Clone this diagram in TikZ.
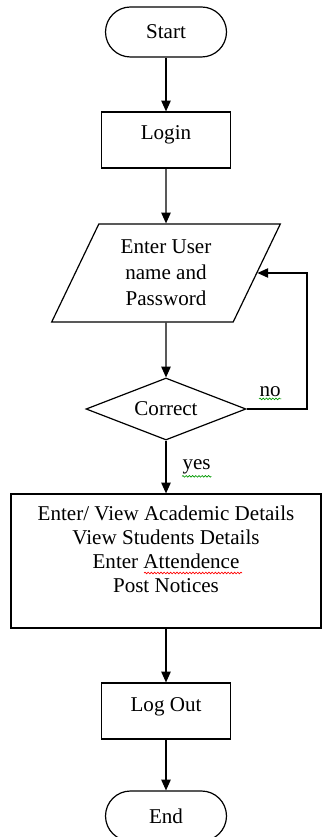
\documentclass[tikz,border=0pt]{standalone}
\usepackage{fontspec}
\setmainfont{Liberation Serif}
\usetikzlibrary{shapes,arrows.meta,positioning,decorations.pathmorphing}
\tikzstyle{term} = [draw, rectangle, rounded corners=18.75pt,
    minimum height=37.5pt, minimum width=90.75pt]
\tikzstyle{block} = [draw, rectangle, minimum height=42pt,
    minimum width=96.75pt, text height=10.5pt, text depth=10.5pt]
\tikzstyle{io} = [draw, trapezium, trapezium left angle=65,
    trapezium right angle=115, trapezium stretches=true,
    minimum height=73.5pt, minimum width=171.75pt, align=center,
    font=\fontsize{15.8}{19.5}\selectfont]
\tikzstyle{decision} = [draw, diamond, aspect=2.6,
    minimum height=46.5pt, minimum width=120pt]
\tikzstyle{task} = [draw, rectangle, minimum height=100.5pt,
    minimum width=232.5pt, align=center, text height=47pt, text depth=0pt]
\tikzstyle{answer} = [inner sep=0pt]
\tikzstyle{spellok} = [draw=green!60!black, line width=0.5pt, decorate,
    decoration={snake, amplitude=0.6pt, segment length=2.4pt}]
\tikzstyle{spellbad} = [spellok, draw=red]

\begin{document}
\begin{tikzpicture}[>={Triangle[length=8pt,width=7pt]}, line width=0.9pt,
    every node/.style={font=\fontsize{15.8}{17.9}\selectfont}]
    \useasboundingbox (0,0) rectangle (240.75pt,-627.75pt);
    % The main column, from top to bottom
    \node [term] (start) at (124.5pt,-24pt) {Start};
    \node [block, below of=start, node distance=81pt] (login) {Login};
    \node [io, below of=login, node distance=99.75pt] (cred) {Enter User\\name and\\Password};
    \node [decision, below of=cred, node distance=102pt] (check) {Correct};
    \node [task, below of=check, node distance=114pt] (work) {Enter/ View Academic Details\\View Students Details\\Enter Attendence\\Post Notices};
    \node [block, below of=work, node distance=112.5pt] (logout) {Log Out};
    \node [term, below of=logout, node distance=78.75pt] (end) {End};
    % corner of the way back when the check fails
    \coordinate [right of=check, node distance=105.75pt] (back);

    % Connect the blocks
    \draw [->] (start) -- (login);
    \draw [->] (login) -- (cred);
    \draw [->] (cred) -- (check);
    \draw [->] (check) -- node [answer, right=12pt] (yes) {yes} (work);
    \draw [->] (check.east) -- node [answer, pos=0.39, above=9pt] (no) {no}
        (back) |- (cred.east);
    \draw [->] (work) -- (logout);
    \draw [->] (logout) -- (end);

    % spell checker marks
    \draw [spellok] ([yshift=-2pt]no.base west) -- ([yshift=-2pt]no.base east);
    \draw [spellok] ([yshift=-5pt]yes.base west) -- ([yshift=-5pt]yes.base east);
    \draw [spellbad] ([xshift=-16.5pt,yshift=-9pt]work.center) -- ([xshift=57pt,yshift=-9pt]work.center);
\end{tikzpicture}
\end{document}
